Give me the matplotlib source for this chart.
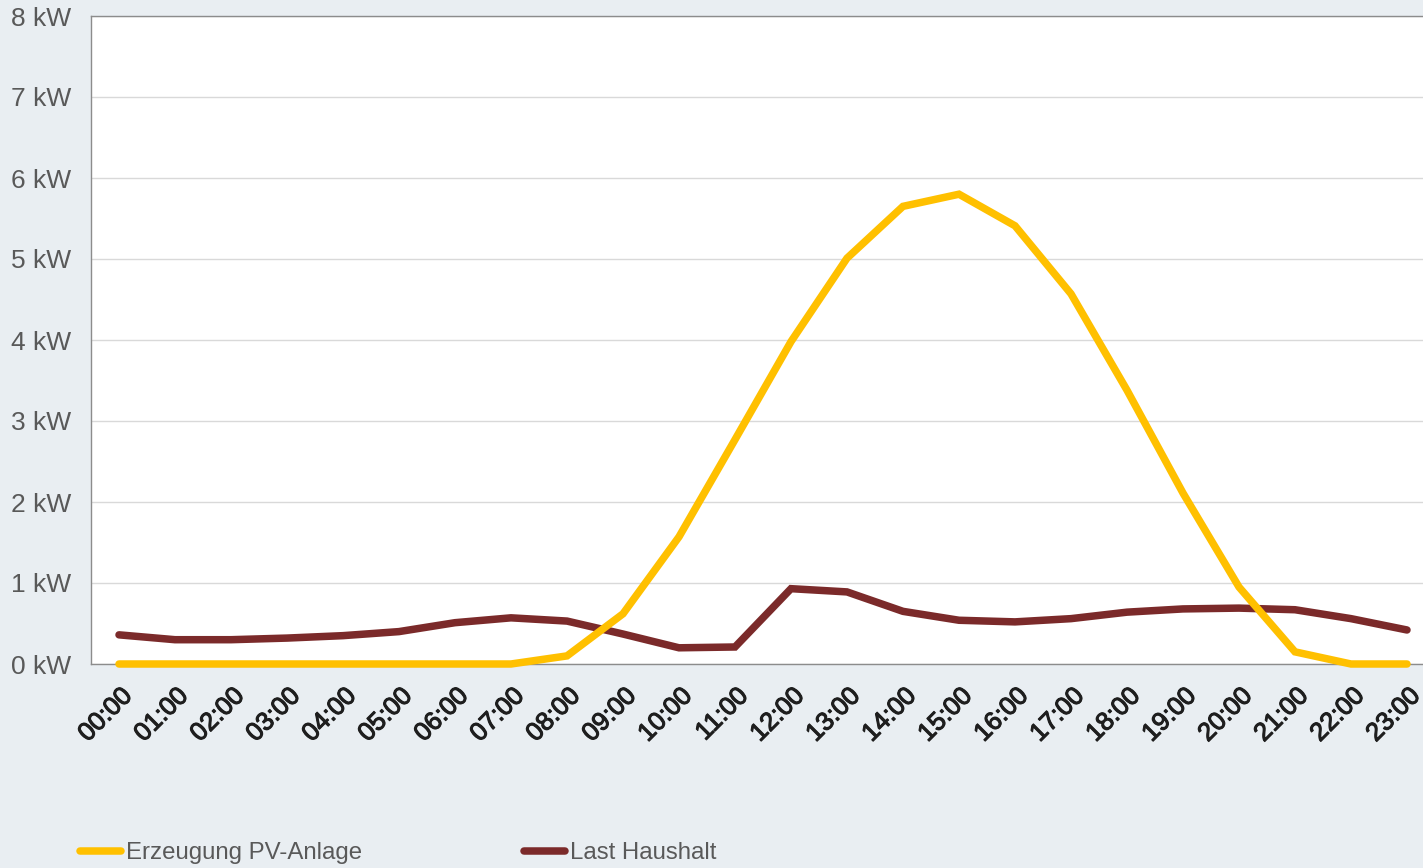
import matplotlib
matplotlib.use("Agg")
import matplotlib.pyplot as plt
from matplotlib.lines import Line2D
import matplotlib.patheffects as pe
import matplotlib.transforms as mtransforms

plt.rcParams['font.family'] = ['Liberation Sans', 'DejaVu Sans']

hours = [f"{h:02d}:00" for h in range(24)]
pv = [0, 0, 0, 0, 0, 0, 0, 0, 0.10, 0.62, 1.57, 2.77, 3.98, 5.01, 5.65, 5.80,
      5.41, 4.57, 3.38, 2.11, 0.95, 0.15, 0, 0]
load = [0.36, 0.30, 0.30, 0.32, 0.35, 0.40, 0.51, 0.57, 0.53, 0.37, 0.20, 0.21,
        0.93, 0.89, 0.65, 0.54, 0.52, 0.56, 0.64, 0.68, 0.69, 0.67, 0.56, 0.42]
yticks = [0, 1, 2, 3, 4, 5, 6, 7, 8]
ytick_labels = [f"{v} kW" for v in yticks]
series_names = ["Erzeugung PV-Anlage", "Last Haushalt"]
colors = ["#FFC000", "#7B2A2A"]

W, H = 1423, 868
fig = plt.figure(figsize=(W / 100, H / 100), dpi=100)
bg = "#E9EEF2"
fig.patch.set_facecolor(bg)

left = 91 / W
right = 1435 / W
top = 1 - 16 / H
bottom = 1 - 664 / H
ax = fig.add_axes([left, bottom, right - left, top - bottom])
ax.set_facecolor("white")

x = list(range(len(hours)))
lw = 5.4
ax.plot(x, pv, color=colors[0], lw=lw, solid_capstyle='round', solid_joinstyle='miter',
        zorder=4, clip_on=False)
ax.plot(x, load, color=colors[1], lw=lw, solid_capstyle='round', solid_joinstyle='miter',
        zorder=3, clip_on=False)

ax.set_xlim(-0.5, 23.5)
ax.set_ylim(0, 8)
ax.set_yticks(yticks)
ax.set_yticklabels(ytick_labels, color="#595959", fontsize=19)
ax.set_xticks(x)
ax.set_xticklabels(hours, rotation=45, ha='right', va='top', rotation_mode='anchor',
                   fontsize=18.5, color="#1E1E1E")
ax.tick_params(axis='both', length=0)
ax.tick_params(axis='y', pad=14)
ax.tick_params(axis='x', pad=14)
offset = mtransforms.ScaledTranslation(1 / 100, 0, fig.dpi_scale_trans)
for lab in ax.get_xticklabels():
    lab.set_transform(lab.get_transform() + offset)
    lab.set_path_effects([pe.withStroke(linewidth=0.8, foreground="#1E1E1E")])
ax.grid(axis='y', color="#D9D9D9", lw=1)
ax.set_axisbelow(True)
for s in ['left', 'bottom', 'top']:
    ax.spines[s].set_color("#8C8C8C")
    ax.spines[s].set_linewidth(1)
ax.spines['right'].set_visible(False)

handles = [Line2D([0], [0], color=c, lw=lw, solid_capstyle='round') for c in colors]
leg = fig.legend(handles, series_names, loc='center left', bbox_to_anchor=(80 / W, 1 - 853 / H),
                 ncol=2, frameon=False, fontsize=17.3, handlelength=1.7, handletextpad=0.2,
                 columnspacing=6.75, labelcolor="#595959", borderaxespad=0, borderpad=0)

fig.savefig("out.png", dpi=100, facecolor=bg)
